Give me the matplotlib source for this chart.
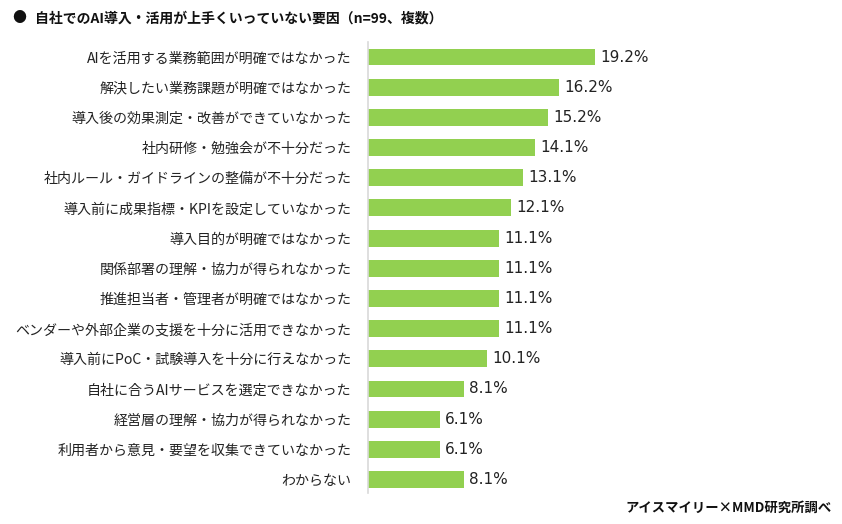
import matplotlib
matplotlib.use("Agg")
import matplotlib.pyplot as plt

plt.rcParams['font.family'] = ['Noto Sans CJK JP', 'DejaVu Sans']

categories = [
    "AIを活用する業務範囲が明確ではなかった",
    "解決したい業務課題が明確ではなかった",
    "導入後の効果測定・改善ができていなかった",
    "社内研修・勉強会が不十分だった",
    "社内ルール・ガイドラインの整備が不十分だった",
    "導入前に成果指標・KPIを設定していなかった",
    "導入目的が明確ではなかった",
    "関係部署の理解・協力が得られなかった",
    "推進担当者・管理者が明確ではなかった",
    "ベンダーや外部企業の支援を十分に活用できなかった",
    "導入前にPoC・試験導入を十分に行えなかった",
    "自社に合うAIサービスを選定できなかった",
    "経営層の理解・協力が得られなかった",
    "利用者から意見・要望を収集できていなかった",
    "わからない",
]
values = [19.2, 16.2, 15.2, 14.1, 13.1, 12.1, 11.1, 11.1, 11.1, 11.1, 10.1, 8.1, 6.1, 6.1, 8.1]

fig = plt.figure(figsize=(8.42, 5.24), dpi=100)
ax = fig.add_axes([0.437, 0.059, 0.421, 0.861])

y = list(range(len(categories)))
ax.barh(y, values, height=0.56, color="#92D050")
for yi, v in zip(y, values):
    ax.text(v + 0.45, yi, f"{v:.1f}%", va="center", ha="left", fontsize=11,
            family="DejaVu Sans", color="#222222")

ax.set_xlim(0, 30)
ax.set_ylim(14.45, -0.5)
ax.set_yticks(y)
ax.set_yticklabels(categories, fontsize=10.1, color="#222222")
ax.tick_params(axis="y", length=0, pad=12)
ax.set_xticks([])
for s in ["top", "right", "bottom"]:
    ax.spines[s].set_visible(False)
ax.spines["left"].set_color("#D9D9D9")
ax.spines["left"].set_linewidth(1.2)

fig.text(12 / 842, 1 - 18 / 524, "●", fontsize=10, va="center", ha="left", color="#111111")
fig.text(35 / 842, 1 - 18 / 524, "自社でのAI導入・活用が上手くいっていない要因（n=99、複数）",
         fontsize=10, fontweight="bold", va="center", ha="left", color="#111111")
fig.text(832 / 842, 1 - 508 / 524, "アイスマイリー×MMD研究所調べ",
         fontsize=9.6, fontweight="bold", va="center", ha="right", color="#111111")

fig.savefig("out.png", dpi=100)
